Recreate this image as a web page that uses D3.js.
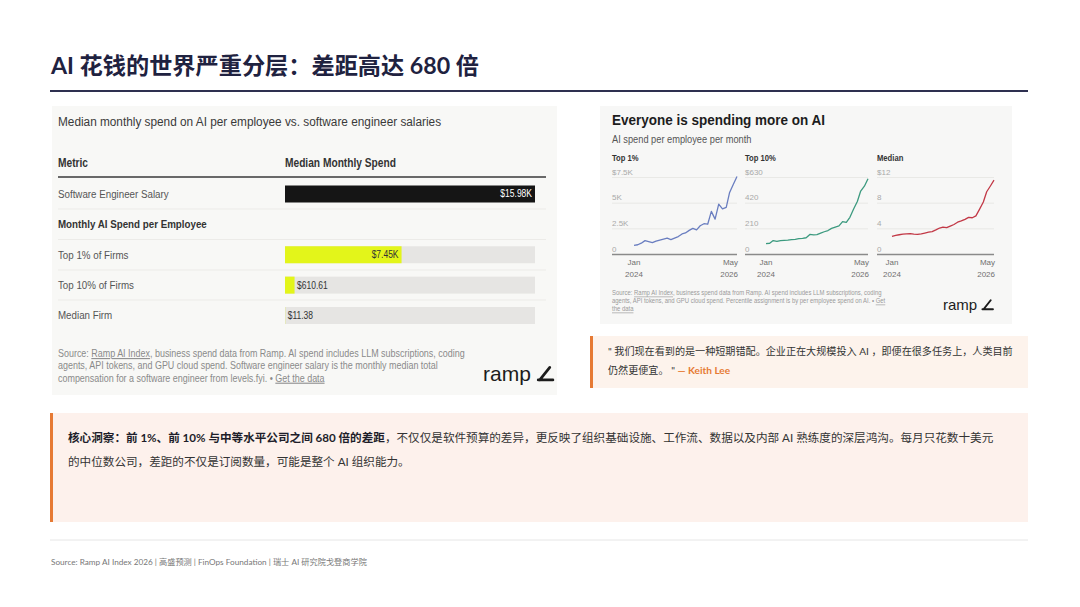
<!DOCTYPE html>
<html><head><meta charset="utf-8">
<script src="https://cdn.jsdelivr.net/npm/d3@7"></script>
<style>body{margin:0;background:#fff}svg{display:block}</style>
</head><body>
<svg id="c" width="1080" height="607"></svg>
<script>
// ---------------- DATA ----------------
const slideTitle = "AI 花钱的世界严重分层：差距高达 680 倍";
const tableTitle = "Median monthly spend on AI per employee vs. software engineer salaries";
const tableHeaders = ["Metric", "Median Monthly Spend"];
const rowLabels = ["Software Engineer Salary", "Monthly AI Spend per Employee", "Top 1% of Firms", "Top 10% of Firms", "Median Firm"];
const rowValues = [15980, null, 7450, 610.61, 11.38];
const rowValueLabels = ["$15.98K", "", "$7.45K", "$610.61", "$11.38"];
const rowKinds = ["salary", "section", "ai", "ai", "ai"];
const tableSource = [
  [["Source: ", 0], ["Ramp AI Index", 1], [", business spend data from Ramp. AI spend includes LLM subscriptions, coding", 0]],
  [["agents, API tokens, and GPU cloud spend. Software engineer salary is the monthly median total", 0]],
  [["compensation for a software engineer from levels.fyi. \u2022 ", 0], ["Get the data", 1]]
];

const chartTitle = "Everyone is spending more on AI";
const chartSubtitle = "AI spend per employee per month";
const months = ["2024-01","2024-02","2024-03","2024-04","2024-05","2024-06","2024-07","2024-08","2024-09","2024-10","2024-11","2024-12",
  "2025-01","2025-02","2025-03","2025-04","2025-05","2025-06","2025-07","2025-08","2025-09","2025-10","2025-11","2025-12",
  "2026-01","2026-02","2026-03","2026-04","2026-05"];
const panelNames = ["Top 1%", "Top 10%", "Median"];
const top1 = [840,900,1050,1300,1200,1100,1250,1350,1450,1550,1400,1550,1700,1950,2050,2300,2500,2350,2750,2950,2900,4150,3400,4850,4400,4550,6000,6800,7550];
const top10 = [85,88,110,103,110,112,113,117,120,125,128,133,160,156,158,170,182,192,210,220,230,265,258,300,368,430,515,555,615];
const median = [2.75,2.9,3.0,3.1,3.15,3.17,3.1,3.05,3.15,3.27,3.4,3.5,3.75,4.05,4.2,4.1,4.35,4.6,4.95,5.15,5.4,5.7,5.65,5.95,7.0,8.1,9.7,10.6,11.5];
const panelMax = [7500, 630, 12];
const tickValues1 = [0, 2500, 5000, 7500];
const tickValues10 = [0, 210, 420, 630];
const tickValuesMed = [0, 4, 8, 12];
const tickLabels1 = ["0", "2.5K", "5K", "$7.5K"];
const tickLabels10 = ["0", "210", "420", "$630"];
const tickLabelsMed = ["0", "4", "8", "$12"];
const xStartLabel = ["Jan", "2024"];
const xEndLabel = ["May", "2026"];
const chartSource = [
  [["Source: ", 0], ["Ramp AI Index", 1], [", business spend data from Ramp. AI spend includes LLM subscriptions, coding", 0]],
  [["agents, API tokens, and GPU cloud spend. Percentile assignment is by per employee spend on AI. \u2022 ", 0], ["Get", 1]],
  [["the data", 1]]
];

const quoteLine1 = "\" 我们现在看到的是一种短期错配。企业正在大规模投入 AI ，即便在很多任务上，人类目前";
const quoteLine2 = "仍然更便宜。 \" ";
const quoteAuthor = "— Keith Lee";
const insightBold = "核心洞察：前 1%、前 10% 与中等水平公司之间 680 倍的差距";
const insightRest1 = "，不仅仅是软件预算的差异，更反映了组织基础设施、工作流、数据以及内部 AI 熟练度的深层鸿沟。每月只花数十美元";
const insightLine2 = "的中位数公司，差距的不仅是订阅数量，可能是整个 AI 组织能力。";
const footerText = "Source: Ramp AI Index 2026 |  高盛预测  | FinOps Foundation |  瑞士 AI 研究院戈登商学院";

// ---------------- STYLE ----------------
const CJK = "'Lato','Noto Sans CJK SC','Noto Sans',sans-serif";
const RAMP = "'Liberation Sans','Helvetica',Arial,sans-serif";
const NAVY = "#1f2240";
const ORANGE = "#e67a34";
const svg = d3.select("#c");

svg.append("rect").attr("width", 1080).attr("height", 607).attr("fill", "#fff");

// condense helper: mimic the narrow grotesque of the embedded images (horizontal scale about the anchor x)
function condense(sel, f) {
  sel.each(function () {
    const x = +this.getAttribute("x") || 0;
    d3.select(this).attr("transform", `translate(${x},0) scale(${f},1) translate(${-x},0)`);
  });
  return sel;
}
function multiText(g, parts, x, y, size, color) {
  const t = g.append("text").attr("x", x).attr("y", y).attr("font-family", RAMP)
    .attr("font-size", size).attr("fill", color);
  parts.forEach(([s, u]) => {
    const ts = t.append("tspan").text(s);
    if (u) ts.attr("text-decoration", "underline");
  });
  return t;
}

// ---------------- SLIDE TITLE ----------------
svg.append("text").attr("x", 51).attr("y", 74).attr("font-family", CJK)
  .attr("font-size", 23.2).attr("font-weight", 700).attr("fill", NAVY).text(slideTitle);
svg.append("line").attr("x1", 50).attr("x2", 1028).attr("y1", 91).attr("y2", 91)
  .attr("stroke", "#2e3050").attr("stroke-width", 2);

// ---------------- LEFT PANEL (table with bars) ----------------
const L = svg.append("g");
L.append("rect").attr("x", 52).attr("y", 106).attr("width", 505).attr("height", 289).attr("fill", "#f8f8f6");
condense(L.append("text").attr("x", 58).attr("y", 126).attr("font-family", RAMP).attr("font-size", 13.5)
  .attr("fill", "#3a3a3a").text(tableTitle), 0.875);

condense(L.append("text").attr("x", 58).attr("y", 167).attr("font-family", RAMP).attr("font-size", 12)
  .attr("font-weight", 700).attr("fill", "#333").text(tableHeaders[0]), 0.85);
condense(L.append("text").attr("x", 285).attr("y", 167).attr("font-family", RAMP).attr("font-size", 12)
  .attr("font-weight", 700).attr("fill", "#333").text(tableHeaders[1]), 0.85);
L.append("line").attr("x1", 58).attr("x2", 546).attr("y1", 177).attr("y2", 177).attr("stroke", "#3a3a3a").attr("stroke-width", 1.5);

const rowY = d3.scalePoint().domain(rowLabels).range([194, 315.5]);
const barX = d3.scaleLinear().domain([0, rowValues[0]]).range([285, 535]);
const barH = 17;

// row separators
[209, 239.5, 270, 300].forEach(y => L.append("line").attr("x1", 58).attr("x2", 546)
  .attr("y1", y).attr("y2", y).attr("stroke", "#ecebe8").attr("stroke-width", 1));

rowLabels.forEach((lab, i) => {
  const y = rowY(lab);
  const kind = rowKinds[i];
  condense(L.append("text").attr("x", 58).attr("y", y + 4).attr("font-family", RAMP)
    .attr("font-size", 11.5)
    .attr("font-weight", kind === "section" ? 700 : 400)
    .attr("fill", kind === "section" ? "#333" : "#555").text(lab), 0.85);
  if (kind === "section") return;
  const v = rowValues[i];
  if (kind === "ai") {
    L.append("rect").attr("x", barX(0)).attr("y", y - barH / 2).attr("width", barX(rowValues[0]) - barX(0))
      .attr("height", barH).attr("fill", "#e6e5e3");
  }
  L.append("rect").attr("x", barX(0)).attr("y", y - barH / 2).attr("width", barX(v) - barX(0))
    .attr("height", barH).attr("fill", kind === "salary" ? "#151515" : "#e3f51a");
  const wide = barX(v) - barX(0) > 60;
  const t = L.append("text").attr("y", y + 3.5).attr("font-family", RAMP).attr("font-size", 10)
    .attr("fill", kind === "salary" ? "#fff" : "#333").text(rowValueLabels[i]);
  if (wide) t.attr("x", barX(v) - 3).attr("text-anchor", "end");
  else t.attr("x", barX(v) + 2.5);
  condense(t, 0.85);
});

tableSource.forEach((parts, i) => {
  condense(multiText(L, parts, 58, 357 + i * 12.3, 10.6, "#8a8a8a"), 0.845);
});
// ramp logo
function rampLogo(g, x, y, size) {
  const t = g.append("text").attr("x", x).attr("y", y).attr("font-family", RAMP)
    .attr("font-size", size).attr("fill", "#1c1c1c").text("ramp");
  const w = t.node().getComputedTextLength();
  const s = size / 20;
  const gx = x + w + 7 * s;
  g.append("path").attr("d",
    `M${gx},${y - 1 * s} L${gx + 14 * s},${y - 1 * s} M${gx + 1.5 * s},${y - 1 * s} L${gx + 11 * s},${y - 13 * s}`)
    .attr("stroke", "#1c1c1c").attr("stroke-width", 2.6 * s).attr("fill", "none").attr("stroke-linecap", "round");
}
rampLogo(L, 483, 381, 21);

// ---------------- RIGHT PANEL (small multiples) ----------------
const R = svg.append("g");
R.append("rect").attr("x", 600).attr("y", 106).attr("width", 412).attr("height", 218).attr("fill", "#f7f7f6");
condense(R.append("text").attr("x", 612).attr("y", 125.5).attr("font-family", RAMP).attr("font-size", 15)
  .attr("font-weight", 700).attr("fill", "#1d1d1d").text(chartTitle), 0.9);
condense(R.append("text").attr("x", 612).attr("y", 143.5).attr("font-family", RAMP).attr("font-size", 10.3)
  .attr("fill", "#555").text(chartSubtitle), 0.9);

const parseM = d3.timeParse("%Y-%m");
const dates = months.map(parseM);
const panels = [
  { name: panelNames[0], values: top1, max: panelMax[0], tv: tickValues1, tl: tickLabels1, color: "#6a7ec0" },
  { name: panelNames[1], values: top10, max: panelMax[1], tv: tickValues10, tl: tickLabels10, color: "#3c9a7f" },
  { name: panelNames[2], values: median, max: panelMax[2], tv: tickValuesMed, tl: tickLabelsMed, color: "#c23846" }
];
const panelPos = [{ gx: 612, lx: 634, rx: 737 }, { gx: 745, lx: 766, rx: 868 }, { gx: 877, lx: 892, rx: 994 }];
const yTop = 177, yBase = 254;

panels.forEach((p, i) => {
  const pos = panelPos[i];
  const g = R.append("g");
  const x = d3.scaleTime().domain([dates[0], dates[dates.length - 1]]).range([pos.lx, pos.rx]);
  const y = d3.scaleLinear().domain([0, p.max]).range([yBase, yTop]);
  condense(g.append("text").attr("x", pos.gx).attr("y", 161.5).attr("font-family", RAMP).attr("font-size", 8.5)
    .attr("font-weight", 700).attr("fill", "#333").text(p.name), 0.9);
  // gridlines + tick labels via axis
  const ax = d3.axisLeft(y).tickValues(p.tv).tickSize(-(pos.rx - pos.gx)).tickFormat((d, k) => p.tl[k]);
  const ag = g.append("g").attr("transform", `translate(${pos.gx},0)`).call(ax);
  ag.select(".domain").remove();
  ag.selectAll(".tick line").attr("stroke", d => d === 0 ? "#8a8a8a" : "#e4e4e2")
    .attr("stroke-width", d => d === 0 ? 1.6 : 0.8);
  ag.selectAll(".tick text").attr("x", 0).attr("dy", "-0.35em").attr("text-anchor", "start")
    .attr("font-family", RAMP).attr("font-size", 8).attr("fill", "#a9a9a9");
  // line
  const line = d3.line().x((d, k) => x(dates[k])).y(d => y(d));
  g.append("path").datum(p.values).attr("d", line).attr("fill", "none")
    .attr("stroke", p.color).attr("stroke-width", 1.3).attr("stroke-linejoin", "round");
  // x labels
  [[dates[0], xStartLabel, "middle"], [dates[dates.length - 1], xEndLabel, "end"]].forEach(([d, lab, anc]) => {
    lab.forEach((s, k) => {
      g.append("text").attr("x", anc === "end" ? x(d) + 1 : x(d)).attr("y", 265 + k * 11.5)
        .attr("text-anchor", anc).attr("font-family", RAMP).attr("font-size", 8).attr("fill", "#707070").text(s);
    });
  });
});

chartSource.forEach((parts, i) => {
  condense(multiText(R, parts, 612, 295.5 + i * 8, 6.6, "#9a9a9a"), 0.9);
});
rampLogo(R, 943, 310, 15);

// ---------------- QUOTE BOX ----------------
const Q = svg.append("g");
Q.append("rect").attr("x", 590).attr("y", 336).attr("width", 438).attr("height", 52).attr("fill", "#fdf3ec");
Q.append("rect").attr("x", 590).attr("y", 336).attr("width", 3).attr("height", 52).attr("fill", ORANGE);
Q.append("text").attr("x", 608).attr("y", 355).attr("font-family", CJK).attr("font-size", 10.1)
  .attr("fill", "#333").text(quoteLine1);
const q2 = Q.append("text").attr("x", 608).attr("y", 374).attr("font-family", CJK).attr("font-size", 10.1).attr("fill", "#333");
q2.append("tspan").text(quoteLine2);
q2.append("tspan").attr("fill", ORANGE).attr("font-weight", 700).text(quoteAuthor);

// ---------------- INSIGHT BOX ----------------
const I = svg.append("g");
I.append("rect").attr("x", 50).attr("y", 413).attr("width", 978).attr("height", 109).attr("fill", "#fdf1ec");
I.append("rect").attr("x", 50).attr("y", 413).attr("width", 3).attr("height", 109).attr("fill", ORANGE);
const i1 = I.append("text").attr("x", 68).attr("y", 442).attr("font-family", CJK).attr("font-size", 11.6).attr("fill", "#333");
i1.append("tspan").attr("font-weight", 700).attr("fill", "#1e1e2a").text(insightBold);
i1.append("tspan").text(insightRest1);
I.append("text").attr("x", 68).attr("y", 465.5).attr("font-family", CJK).attr("font-size", 11.6).attr("fill", "#333").text(insightLine2);

// ---------------- FOOTER ----------------
svg.append("line").attr("x1", 50).attr("x2", 1028).attr("y1", 540).attr("y2", 540).attr("stroke", "#e6e6e6").attr("stroke-width", 1);
svg.append("text").attr("x", 51).attr("y", 565).attr("font-family", CJK).attr("font-size", 8.2)
  .attr("fill", "#777").text(footerText);
</script>
</body></html>
